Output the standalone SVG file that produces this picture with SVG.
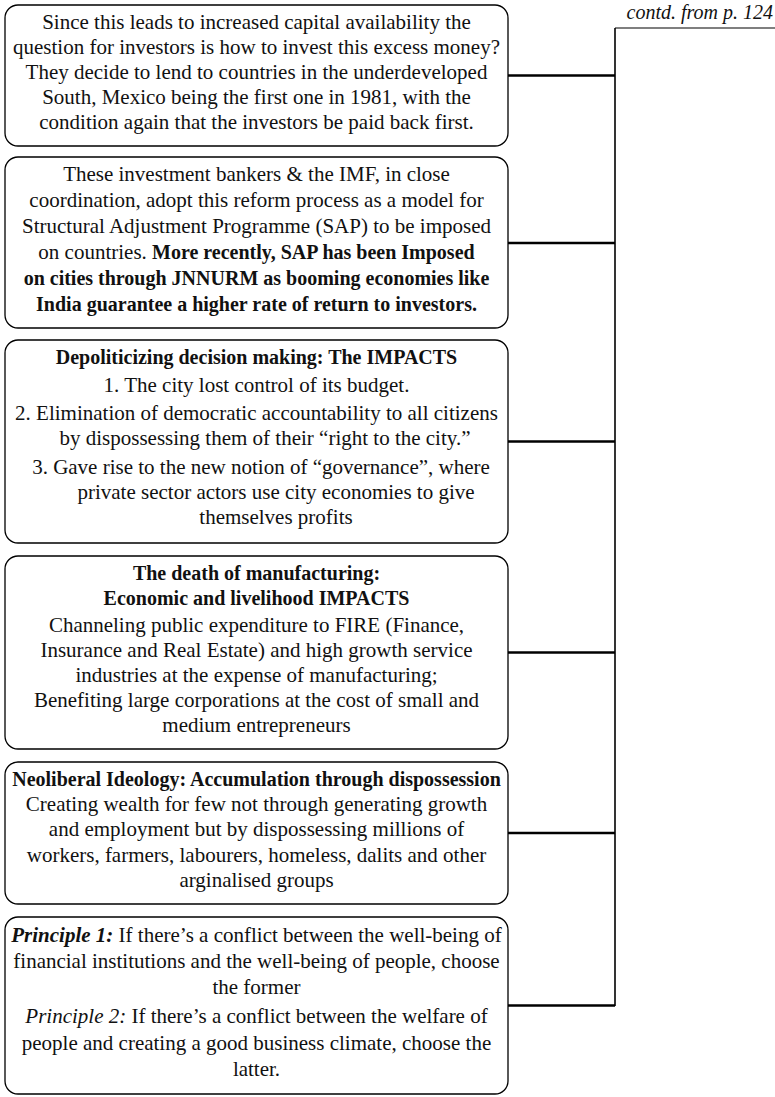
<svg xmlns="http://www.w3.org/2000/svg" width="775" height="1097" viewBox="0 0 775 1097">
<style>
.box{fill:#fff;stroke:#000;stroke-width:1.3}
text{font-family:"Liberation Serif","Times New Roman",serif;font-size:21px;fill:#111;text-anchor:middle}
.b{font-weight:bold;font-size:20px}
.i{font-style:italic}
.bi{font-weight:bold;font-style:italic}
.conn{stroke:#000;fill:none}
.thick{stroke-width:2.6}
.thin{stroke-width:1.6}
.hair{stroke-width:1.1}
</style>
<rect width="775" height="1097" fill="#fff"/>
<g id="connectors">
<line class="conn thin" x1="615" y1="28" x2="615" y2="1006"/>
<line class="conn hair" x1="615" y1="28" x2="775" y2="28"/>
<line class="conn thick" x1="508" y1="75.5" x2="615" y2="75.5"/>
<line class="conn thick" x1="508" y1="243" x2="615" y2="243"/>
<line class="conn thick" x1="508" y1="441.5" x2="615" y2="441.5"/>
<line class="conn thick" x1="508" y1="652.5" x2="615" y2="652.5"/>
<line class="conn thick" x1="508" y1="833" x2="615" y2="833"/>
<line class="conn thick" x1="508" y1="1005.5" x2="615" y2="1005.5"/>
</g>
<g id="contd">
<text class="i" x="773" y="19" style="text-anchor:end;font-size:20px">contd. from p. 124</text>
</g>
<g id="box1">
<rect class="box" x="5" y="5" width="503" height="141" rx="13"/>
<text x="256.5" y="29">Since this leads to increased capital availability the</text>
<text x="256.5" y="54">question for investors is how to invest this excess money?</text>
<text x="256.5" y="79">They decide to lend to countries in the underdeveloped</text>
<text x="256.5" y="104">South, Mexico being the first one in 1981, with the</text>
<text x="256.5" y="129">condition again that the investors be paid back first.</text>
</g>
<g id="box2">
<rect class="box" x="5" y="157" width="503" height="171" rx="13"/>
<text x="256.5" y="181">These investment bankers &amp; the IMF, in close</text>
<text x="256.5" y="207">coordination, adopt this reform process as a model for</text>
<text x="256.5" y="233">Structural Adjustment Programme (SAP) to be imposed</text>
<text x="256.5" y="259">on countries. <tspan class="b">More recently, SAP has been Imposed</tspan></text>
<text class="b" x="256.5" y="285">on cities through JNNURM as booming economies like</text>
<text class="b" x="256.5" y="311">India guarantee a higher rate of return to investors.</text>
</g>
<g id="box3">
<rect class="box" x="5" y="340" width="503" height="203" rx="13"/>
<text class="b" x="256.5" y="364">Depoliticizing decision making: The IMPACTS</text>
<text x="256.5" y="392">1. The city lost control of its budget.</text>
<text x="256.5" y="420">2. Elimination of democratic accountability to all citizens</text>
<text x="265" y="445">by dispossessing them of their “right to the city.”</text>
<text x="261" y="474">3. Gave rise to the new notion of “governance”, where</text>
<text x="276" y="499">private sector actors use city economies to give</text>
<text x="276" y="524">themselves profits</text>
</g>
<g id="box4">
<rect class="box" x="5" y="556" width="503" height="193" rx="13"/>
<text class="b" x="256.5" y="580">The death of manufacturing:</text>
<text class="b" x="256.5" y="605">Economic and livelihood IMPACTS</text>
<text x="256.5" y="632">Channeling public expenditure to FIRE (Finance,</text>
<text x="256.5" y="657">Insurance and Real Estate) and high growth service</text>
<text x="256.5" y="682">industries at the expense of manufacturing;</text>
<text x="256.5" y="707">Benefiting large corporations at the cost of small and</text>
<text x="256.5" y="732">medium entrepreneurs</text>
</g>
<g id="box5">
<rect class="box" x="5" y="762" width="503" height="142" rx="13"/>
<text class="b" x="256.5" y="786">Neoliberal Ideology: Accumulation through dispossession</text>
<text x="256.5" y="811">Creating wealth for few not through generating growth</text>
<text x="256.5" y="836">and employment but by dispossessing millions of</text>
<text x="256.5" y="862">workers, farmers, labourers, homeless, dalits and other</text>
<text x="256.5" y="887">arginalised groups</text>
</g>
<g id="box6">
<rect class="box" x="5" y="917" width="503" height="177" rx="13"/>
<text x="256.5" y="942"><tspan class="bi">Principle 1:</tspan> If there’s a conflict between the well-being of</text>
<text x="256.5" y="968">financial institutions and the well-being of people, choose</text>
<text x="256.5" y="994">the former</text>
<text x="256.5" y="1023"><tspan class="i">Principle 2:</tspan> If there’s a conflict between the welfare of</text>
<text x="256.5" y="1050">people and creating a good business climate, choose the</text>
<text x="256.5" y="1076">latter.</text>
</g>
</svg>
